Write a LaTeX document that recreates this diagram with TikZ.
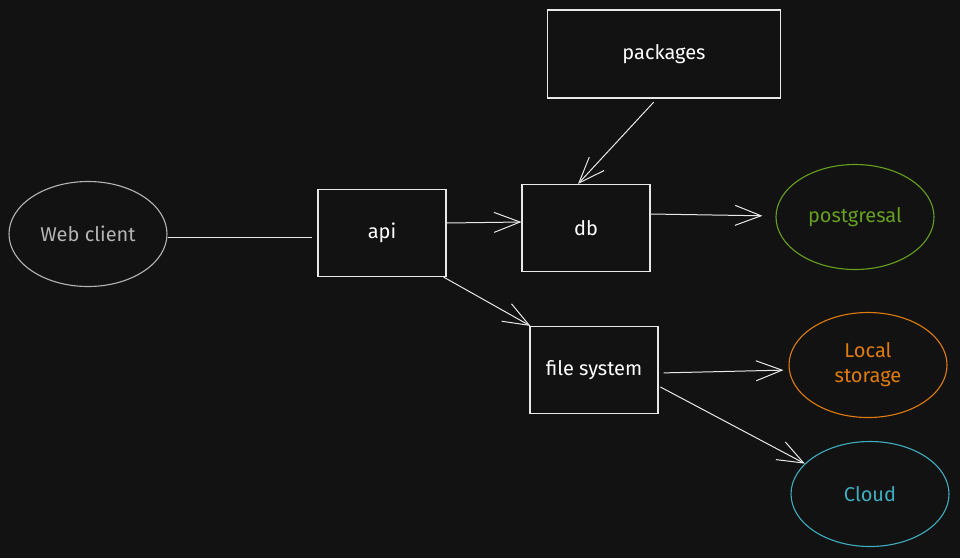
\documentclass[tikz,border=0pt]{standalone}
\usepackage{fontspec}
\setmainfont{Fira Sans}
\usetikzlibrary{arrows.meta,shapes.geometric}
\definecolor{bg}{HTML}{121212}
\definecolor{stroke}{HTML}{E8E8E8}
\definecolor{grayc}{HTML}{B4B4B4}
\definecolor{greenc}{HTML}{66A01E}
\definecolor{orangec}{HTML}{E07C0C}
\definecolor{cyanc}{HTML}{3FADC0}
\tikzset{
  box/.style={draw=stroke, line width=1.1pt, fill=bg, text=white, minimum width=128pt, minimum height=87pt, inner sep=0pt, font=\fontsize{20}{23}\selectfont},
  oval/.style={ellipse, line width=1.1pt, minimum width=158pt, minimum height=105pt, inner sep=0pt, align=center, font=\fontsize{20}{25}\selectfont},
  conn/.style={draw=stroke, line width=1pt},
  arr/.style={conn, -{Straight Barb[length=26pt,width=20pt,line width=1pt]}},
}
\begin{document}
\begin{tikzpicture}[x=1pt,y=-1pt]
\useasboundingbox (0,0) rectangle (960,558);
\fill[bg] (0,0) rectangle (960,558);
\node[oval, draw=grayc, text=grayc] (web) at (88,234) {Web client};
\node[box] (api) at (382,233) {api};
\node[box] (db) at (586,228) {db};
\node[box, minimum width=233pt, minimum height=88pt] (pkg) at (664,54) {packages};
\node[oval, draw=greenc, text=greenc] (pg) at (855,217) {postgresal};
\node[box, minimum height=87pt] (fs) at (594,370) {file system};
\node[oval, draw=orangec, text=orangec] (local) at (868,365) {Local\\storage};
\node[oval, draw=cyanc, text=cyanc] (cloud) at (870,494) {Cloud};
\draw[conn, shorten >=5pt] ([yshift=-3pt]web.east) -- ([yshift=-4pt]api.west);
\draw[arr] ([yshift=10pt]api.east) -- ([yshift=6pt]db.west);
\draw[arr, shorten <=5pt] ([xshift=-7pt]pkg.south) -- ([xshift=-8pt]db.north);
\draw[arr] ([xshift=-3pt]api.south east) -- ([xshift=1pt]fs.north west);
\draw[arr, shorten >=13pt] ([yshift=14pt]db.east) -- ([yshift=1pt]pg.west);
\draw[arr, shorten <=5pt, shorten >=5pt] ([yshift=-3pt]fs.east) -- ([yshift=-5pt]local.west);
\draw[arr, shorten <=2pt] ([yshift=-16pt]fs.east) -- (cloud.155);
\end{tikzpicture}
\end{document}
